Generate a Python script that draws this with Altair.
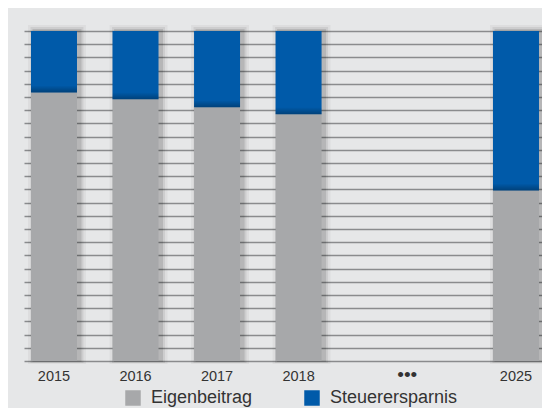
import altair as alt
import pandas as pd

# ---- data ----
years = ["2015", "2016", "2017", "2018", "2025"]
eigenbeitrag = [81.4, 79.3, 76.9, 74.8, 51.7]      # share in %
steuerersparnis = [18.6, 20.7, 23.1, 25.2, 48.3]   # share in %
series = ["Eigenbeitrag", "Steuerersparnis"]
colors = ["#a7a8aa", "#005aa9"]
ellipsis_label = "•••"

# x layout: evenly spaced slots; spacer slots (starting with "_") stay empty
x_domain = ["2015", "_a", "_b", "2016", "_c", "_d", "2017", "_e", "_f",
            "2018", "_g", "_h", "_i", ellipsis_label, "_j", "_k", "_l", "2025"]

rows = []
for i, y in enumerate(years):
    rows.append({"Jahr": y, "Anteil": "Eigenbeitrag", "Wert": eigenbeitrag[i], "ord": 0})
    rows.append({"Jahr": y, "Anteil": "Steuerersparnis", "Wert": steuerersparnis[i], "ord": 1})
df = pd.DataFrame(rows)
df_tot = pd.DataFrame({"Jahr": years, "eig": eigenbeitrag})

FONT = "Liberation Sans, Arial, sans-serif"

xscale = alt.Scale(domain=x_domain, paddingInner=0, paddingOuter=0.5303, align=0.569, round=False)
yscale = alt.Scale(domain=[0, 100], nice=False)

xaxis = alt.Axis(title=None, labelAngle=0, domain=False, ticks=False,
                 grid=False, labelFont=FONT,
                 labelFontSize=alt.ConditionalAxisNumber(
                     condition={"test": "datum.label == '" + ellipsis_label + "'", "value": 19},
                     value=14.5),
                 labelColor="#333333", labelPadding=19, labelBaseline="alphabetic",
                 labelExpr="indexof(datum.label, '_') == 0 ? '' : datum.label")
yaxis = alt.Axis(title=None, labels=False, ticks=False, domain=False,
                 values=list(range(0, 101, 4)), grid=True,
                 gridColor="#8a8b8d", gridWidth=1.5)

xenc = alt.X("Jahr:N", scale=xscale, sort=x_domain, axis=xaxis)

base_tot = alt.Chart(df_tot)

shadows = []
for size, off, op in [(58, 6, 0.04), (53, 4, 0.07), (49, 2, 0.11)]:
    shadows.append(
        base_tot.mark_bar(size=size, color="black", opacity=op, xOffset=3,
                          yOffset=-off, y2Offset=off * 0.5)
        .encode(x=xenc,
                y=alt.Y(datum=100, scale=yscale, axis=yaxis),
                y2=alt.Y2(datum=0))
    )

bars = alt.Chart(df).mark_bar(size=46).encode(
    x=xenc,
    y=alt.Y("Wert:Q", stack="zero", scale=yscale, axis=yaxis),
    color=alt.Color("Anteil:N", scale=alt.Scale(domain=series, range=colors),
                    legend=alt.Legend(title=None, orient="none", legendX=100, legendY=358,
                                      direction="horizontal", symbolType="square",
                                      symbolSize=240, symbolStrokeWidth=0, symbolOpacity=1,
                                      labelFont=FONT, labelFontSize=18, labelColor="#333333",
                                      labelOffset=9, columnPadding=50)),
    order=alt.Order("ord:Q"),
)

grad = alt.LinearGradient(
    gradient="linear", x1=0, x2=0, y1=0, y2=1,
    stops=[alt.GradientStop(color="rgba(0,0,0,0)", offset=0),
           alt.GradientStop(color="rgba(0,0,0,0.28)", offset=1)])

edge = base_tot.mark_bar(size=46, color=grad, yOffset=-7, y2Offset=0).encode(
    x=xenc, y=alt.Y("eig:Q", scale=yscale, axis=yaxis), y2="eig:Q")

chart = alt.layer(*shadows, bars, edge).properties(
    width=518, height=330,
    padding={"left": 16, "top": 23, "right": 0, "bottom": 47},
    autosize=alt.AutoSizeParams(type="none"),
    background="#e6e7e8",
).configure_view(stroke=None)

chart.save("out.html", embed_options={"renderer": "svg", "actions": False})
